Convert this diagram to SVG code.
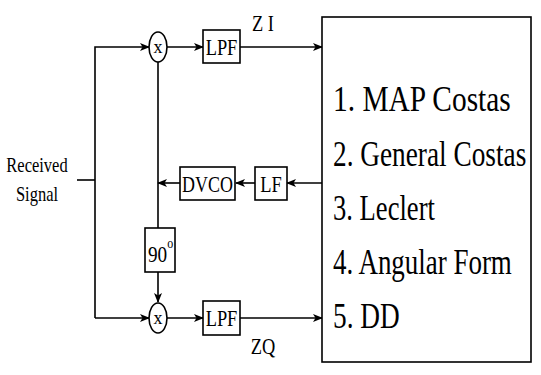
<svg xmlns="http://www.w3.org/2000/svg" width="541" height="375" viewBox="0 0 541 375">
<style>
.ln{stroke:#000;stroke-width:1.6;fill:none}
.bx{stroke:#000;stroke-width:1.6;fill:#fff}
text{font-family:'Liberation Serif','DejaVu Serif','Times New Roman',serif;fill:#000}
.big{font-size:35px}
.sm{font-size:23px}
</style>
<defs>
<marker id="ah" markerWidth="10" markerHeight="8" refX="9" refY="4" orient="auto" markerUnits="userSpaceOnUse">
<path d="M0,0 L10,4 L0,8 L2.5,4 Z" fill="#000"/>
</marker>
</defs>
<rect width="541" height="375" fill="#fff"/>
<g id="connectors">
<path class="ln" d="M77,180 H95"/>
<path class="ln" d="M95,318 V47 H149" marker-end="url(#ah)"/>
<path class="ln" d="M95,318 H149" marker-end="url(#ah)"/>
<path class="ln" d="M167,47 H203" marker-end="url(#ah)"/>
<path class="ln" d="M167,318 H203" marker-end="url(#ah)"/>
<path class="ln" d="M240,47 H322" marker-end="url(#ah)"/>
<path class="ln" d="M240,318 H322" marker-end="url(#ah)"/>
<path class="ln" d="M322,183 H287" marker-end="url(#ah)"/>
<path class="ln" d="M255,183 H236" marker-end="url(#ah)"/>
<path class="ln" d="M180,183 H158" marker-end="url(#ah)"/>
<path class="ln" d="M158,62 V228"/>
<path class="ln" d="M158,272 V302" marker-end="url(#ah)"/>
</g>
<g id="received">
<text transform="translate(37,172) scale(0.75,1)" text-anchor="middle" font-size="22">Received</text>
<text transform="translate(37,201) scale(0.75,1)" text-anchor="middle" font-size="22">Signal</text>
</g>
<g id="mix1">
<ellipse class="bx" cx="158" cy="47" rx="9" ry="15"/>
<text x="158" y="53" text-anchor="middle" font-size="18">x</text>
</g>
<g id="mix2">
<ellipse class="bx" cx="158" cy="318" rx="9" ry="15"/>
<text x="158" y="324" text-anchor="middle" font-size="18">x</text>
</g>
<g id="lpf1">
<rect class="bx" x="203" y="30" width="37" height="33"/>
<text class="sm" transform="translate(221.5,55) scale(0.8,1)" text-anchor="middle">LPF</text>
</g>
<g id="lpf2">
<rect class="bx" x="203" y="301" width="37" height="34"/>
<text class="sm" transform="translate(221.5,326) scale(0.8,1)" text-anchor="middle">LPF</text>
</g>
<g id="lf">
<rect class="bx" x="255" y="167" width="32" height="33"/>
<text class="sm" transform="translate(271,192) scale(0.8,1)" text-anchor="middle">LF</text>
</g>
<g id="dvco">
<rect class="bx" x="180" y="167" width="55" height="33"/>
<text class="sm" transform="translate(207.5,192) scale(0.78,1)" text-anchor="middle">DVCO</text>
</g>
<g id="shift">
<rect class="bx" x="145" y="228" width="30" height="44"/>
<text transform="translate(148,262) scale(0.8,1)" font-size="24">90<tspan dy="-14" font-size="15">o</tspan></text>
</g>
<g id="labels">
<text transform="translate(263,31) scale(0.8,1)" text-anchor="middle" font-size="23">Z I</text>
<text transform="translate(263,354) scale(0.8,1)" text-anchor="middle" font-size="23">ZQ</text>
</g>
<g id="methods">
<rect class="bx" x="322" y="17" width="209" height="345"/>
<text class="big" transform="translate(333,111) scale(0.84,1)">1. MAP Costas</text>
<text class="big" transform="translate(333,166) scale(0.78,1)">2. General Costas</text>
<text class="big" transform="translate(333,220) scale(0.76,1)">3. Leclert</text>
<text class="big" transform="translate(333,274) scale(0.77,1)">4. Angular Form</text>
<text class="big" transform="translate(333,328) scale(0.78,1)">5. DD</text>
</g>
</svg>
